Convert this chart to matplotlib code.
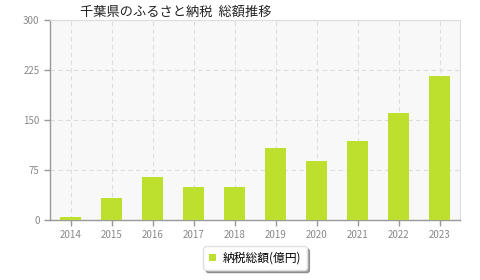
import matplotlib
matplotlib.use("Agg")
import matplotlib.pyplot as plt
import numpy as np

plt.rcParams['font.family'] = ['Noto Sans CJK JP', 'DejaVu Sans']

YEARS = ["2014", "2015", "2016", "2017", "2018", "2019", "2020", "2021", "2022", "2023"]
TOTAL = [4, 33, 64, 49, 49, 108, 89, 118, 160, 216]
Y_TICKS = [0, 75, 150, 225, 300]

BAR_COLOR = "#bde02e"
AXIS_COLOR = "#999999"
TEXT_COLOR = "#888888"

fig = plt.figure(figsize=(4.8, 2.8), dpi=100)
ax = fig.add_axes([50 / 480, 60 / 280, 410 / 480, 200 / 280])
ax.set_facecolor("#f8f8f8")

x = np.arange(len(YEARS))
ax.bar(x, TOTAL, width=0.49, color=BAR_COLOR, zorder=3, label="納税総額(億円)")

ax.set_xlim(-0.5, len(YEARS) - 0.5)
ax.set_ylim(0, 300)
ax.set_yticks(Y_TICKS)
ax.set_xticks(x)
ax.set_xticklabels(YEARS)
ax.tick_params(axis="both", colors=AXIS_COLOR, labelcolor=TEXT_COLOR,
               labelsize=7, length=4, width=1)
ax.tick_params(axis="x", pad=3)
ax.grid(True, color="#dddddd", linestyle=(0, (4, 3)), linewidth=0.8, zorder=0)

for side in ["top", "right"]:
    ax.spines[side].set_color("#dddddd")
for side in ["left", "bottom"]:
    ax.spines[side].set_color(AXIS_COLOR)
    ax.spines[side].set_linewidth(1)

fig.text(80 / 480, 1 - 12 / 280, "千葉県のふるさと納税  総額推移", fontsize=9.5,
         color="#222222", va="center", ha="left")

leg = fig.legend(loc="center", bbox_to_anchor=(255 / 480, 1 - 258 / 280),
                 fontsize=8.5, frameon=True, fancybox=True, shadow=True,
                 handlelength=0.6, handleheight=0.6, borderpad=0.45,
                 handletextpad=0.6, borderaxespad=0)
leg.get_frame().set_edgecolor("#e0e0e0")
leg.get_frame().set_facecolor("white")

fig.savefig("out.png", dpi=100)
